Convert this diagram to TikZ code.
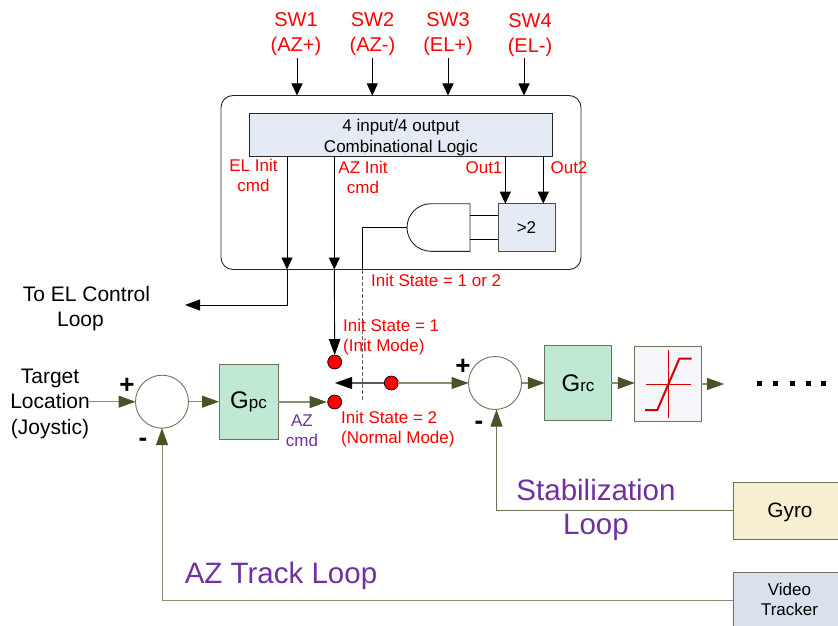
\documentclass[tikz,border=0pt]{standalone}
\usepackage{fontspec}
\setmainfont{Liberation Sans}
\usetikzlibrary{arrows.meta}
\definecolor{olivetip}{HTML}{4A5228}
\definecolor{oliveline}{HTML}{8A8E70}
\definecolor{oliveedge}{HTML}{6E7358}
\definecolor{boxgreen}{HTML}{BFE9D3}
\definecolor{boxcream}{HTML}{F8EFD2}
\definecolor{boxgray}{HTML}{D9E2EC}
\definecolor{boxblue}{HTML}{E4EBF5}
\definecolor{boxpale}{HTML}{F4F6FA}
\definecolor{loopviolet}{HTML}{7030A0}
\definecolor{dotred}{HTML}{FF0000}
\definecolor{dashgray}{HTML}{666666}
\tikzset{
  outerbox/.style={draw=black!85,line width=.9pt,rounded corners=12pt,inner sep=0pt,outer sep=0pt},
  logicbox/.style={draw=black!85,line width=.9pt,fill=boxblue,inner sep=0pt,outer sep=0pt,align=center,font=\fontsize{17}{21}\selectfont},
  ctrlbox/.style={draw=oliveedge,line width=1pt,inner sep=0pt,outer sep=0pt,align=center},
  sumnode/.style={circle,draw=oliveedge,line width=.9pt,fill=white,minimum size=53pt,inner sep=0pt,outer sep=0pt},
  reddot/.style={circle,draw=black,line width=.7pt,fill=dotred,minimum size=14pt,inner sep=0pt,outer sep=0pt},
  redlabel/.style={text=dotred,align=center,inner sep=0pt,font=\fontsize{17}{20}\selectfont},
  redleft/.style={redlabel,align=left,anchor=west},
  swlabel/.style={text=dotred,align=center,inner sep=0pt,font=\fontsize{20}{25}\selectfont},
  darklabel/.style={text=black,align=center,inner sep=0pt,font=\fontsize{21}{25.5}\selectfont},
  violetlabel/.style={text=loopviolet,align=center,inner sep=0pt,font=\fontsize{17}{20}\selectfont},
  looplabel/.style={text=loopviolet,align=center,inner sep=0pt,font=\fontsize{29.5}{34}\selectfont},
  signlabel/.style={text=black,inner sep=0pt,font=\bfseries\fontsize{26}{26}\selectfont},
  blackarrow/.style={draw=black,line width=.9pt,-{Triangle[length=12pt,width=11pt]}},
  bigblack/.style={draw=black,line width=.9pt,-{Triangle[length=16pt,width=11.5pt]}},
  olivearrow/.style={draw=oliveline,line width=1.1pt,-{Triangle[length=17pt,width=12pt,color=olivetip]}},
  plainblack/.style={draw=black,line width=.9pt},
  plainolive/.style={draw=oliveedge,line width=1pt},
}
\begin{document}
\begin{tikzpicture}[x=1pt,y=-1pt]
\useasboundingbox (0,0) rectangle (838,626);
\clip (0,0) rectangle (838,626);

% control logic enclosure
\node[outerbox,minimum width=360pt,minimum height=174pt] (outer) at (401,182.5) {};
\node[logicbox,minimum width=303.5pt,minimum height=42pt] (logic) at (401,135) {\rule{0pt}{18pt}4 input/4 output\\Combinational Logic};
\node[ctrlbox,draw=black!70,fill=boxblue,minimum width=57pt,minimum height=47.5pt,font=\fontsize{17}{20}\selectfont] (gt) at (526.5,227.5) {>2};

% switches
\node[swlabel] (sw1) at (296,34) {SW1\\(AZ+)};
\node[swlabel] (sw2) at (372.5,34) {SW2\\(AZ-)};
\node[swlabel] (sw3) at (448,34) {SW3\\(EL+)};
\node[swlabel] (sw4) at (530,35.5) {SW4\\(EL-)};
\coordinate (sw1a) at (297,58); \coordinate (sw1b) at (297,95.5);
\coordinate (sw2a) at (372.3,58); \coordinate (sw2b) at (372.3,95.5);
\coordinate (sw3a) at (448,58); \coordinate (sw3b) at (448,95.5);
\coordinate (sw4a) at (524,58); \coordinate (sw4b) at (524,95.5);
\draw[blackarrow] (sw1a) -- (sw1b);
\draw[blackarrow] (sw2a) -- (sw2b);
\draw[blackarrow] (sw3a) -- (sw3b);
\draw[blackarrow] (sw4a) -- (sw4b);

% AND gate
\coordinate (andtl) at (470,203.7);
\coordinate (andbl) at (470,251.3);
\coordinate (andout) at (407,227.5);
\draw[draw=black!85,line width=.9pt,fill=white] (andtl) -- (431,203.7) arc[start angle=90,end angle=270,x radius=24pt,y radius=23.8pt] -- (andbl) -- cycle;
\coordinate (and1) at (470,215.7); \coordinate (gt1) at (498,215.7);
\coordinate (and2) at (470,239.3); \coordinate (gt2) at (498,239.3);
\draw[plainblack] (and1) -- (gt1);
\draw[plainblack] (and2) -- (gt2);

% logic outputs
\coordinate (o1a) at (505.3,156); \coordinate (o1b) at (505.3,203.7);
\coordinate (o2a) at (543.3,156); \coordinate (o2b) at (543.3,203.7);
\draw[blackarrow] (o1a) -- (o1b);
\draw[blackarrow] (o2a) -- (o2b);
\node[redlabel] (lo1) at (484,168) {Out1};
\node[redlabel] (lo2) at (569,168) {Out2};
\node[redlabel] (lel) at (253.5,175) {EL Init\\cmd};
\node[redlabel] (laz) at (363,177) {AZ Init\\cmd};

% init state wire
\coordinate (st1) at (362.7,227.5);
\coordinate (st2) at (362.7,270);
\coordinate (st3) at (362.7,400);
\draw[plainblack] (andout) -- (st1) -- (st2);
\draw[draw=dashgray,line width=1.1pt,dash pattern=on 4pt off 2pt] (st2) -- (st3);

% switch dots
\node[reddot] (dot1) at (334.7,362) {};
\node[reddot] (dot2) at (334.7,402) {};
\node[reddot] (dot3) at (391.3,383) {};

% EL and AZ command wires
\coordinate (el1) at (287,156); \coordinate (el2) at (287,269.5); \coordinate (el3) at (287,305); \coordinate (el4) at (185,305);
\coordinate (az1) at (334.3,156); \coordinate (az2) at (334.3,269.5);
\draw[blackarrow] (el1) -- (el2);
\draw[blackarrow] (az1) -- (az2);
\draw[draw=black,line width=.9pt,-{Triangle[length=15pt,width=11pt]}] (el2) -- (el3) -- (el4);
\draw[bigblack] (az2) -- (dot1.north);
\draw[draw=gray!70!black,line width=1.1pt,-{Triangle[length=17pt,width=12pt,color=black]}] (dot3.west) -- (335,383);

% labels
\node[darklabel,anchor=center] (toel) at (86.5,308.5) {To EL Control\\Loop\hspace*{12pt}};
\node[redleft] (s12) at (371,280.5) {Init State = 1 or 2};
\node[redleft] (s1) at (343,337) {Init State = 1\\(Init Mode)};
\node[redleft] (s2) at (341,429.5) {Init State = 2\\(Normal Mode)};

% control chain
\node[darklabel] (target) at (50,403.5) {Target\\Location\\(Joystic)};
\node[sumnode] (sum1) at (162,401.7) {};
\node[ctrlbox,fill=boxgreen,minimum width=59pt,minimum height=75pt] (gpc) at (248.5,401.5) {{\fontsize{24}{24}\selectfont G}{\fontsize{17}{17}\selectfont pc}};
\node[sumnode] (sum2) at (495,383) {};
\node[ctrlbox,fill=boxgreen,minimum width=66.5pt,minimum height=75.5pt] (grc) at (578,383) {{\fontsize{24}{24}\selectfont G}{\fontsize{17}{17}\selectfont rc}};
\node[ctrlbox,fill=boxpale,minimum width=66.5pt,minimum height=75.5pt] (sat) at (668,384.2) {};
\coordinate (endout) at (724,384);
\node[ctrlbox,fill=boxcream,minimum width=110pt,minimum height=57pt] (gyro) at (788,510.5) {};
\node[ctrlbox,fill=boxgray,minimum width=110pt,minimum height=60pt] (video) at (788,602.7) {};
\node[font=\fontsize{20.8}{25}\selectfont,inner sep=0pt] (gyrotext) at (790,512) {Gyro};
\node[font=\fontsize{17}{20}\selectfont,align=center,inner sep=0pt] (videotext) at (789.5,599) {Video\\Tracker};

% saturation symbol
\draw[draw=red!85!black,line width=.8pt] (668,350) -- (668,418);
\draw[draw=red!85!black,line width=.8pt] (645.7,384) -- (691,384);
\draw[draw=red!80!black,line width=2pt] (645,410) -- (657.3,410) -- (679.3,358.7) -- (691.7,358.7);

% connectors
\coordinate (tin) at (89,401.7);
\draw[olivearrow] (tin) -- (sum1.west);
\draw[olivearrow] (sum1.east) -- (sum1.east -| gpc.west);
\coordinate (dot2w) at (326.7,402);
\draw[olivearrow] (gpc.east |- dot2w) -- (dot2w);
\draw[olivearrow] (dot3.east) -- (sum2.west);
\draw[olivearrow] (sum2.east) -- (sum2.east -| grc.west);
\draw[olivearrow] (grc.east) -- (grc.east -| sat.west);
\draw[olivearrow] (sat.east |- endout) -- (endout);
\coordinate (g1) at (496.5,510);
\coordinate (v1) at (162,600.7);
\draw[plainolive,-{Triangle[length=17pt,width=12pt,color=olivetip]}] (gyro.west |- g1) -- (g1) -- (g1 |- sum2.south);
\draw[plainolive,draw=oliveline,-{Triangle[length=17pt,width=12pt,color=olivetip]}] (video.west |- v1) -- (v1) -- (sum1.south);

% signs
\node[signlabel] (p1) at (127,385.5) {+};
\node[signlabel] (m1) at (143,442) {-};
\node[signlabel] (p2) at (463,366.5) {+};
\node[signlabel] (m2) at (479,425) {-};

% loop labels
\node[violetlabel] (azcmd) at (302,430.5) {AZ\\cmd};
\node[looplabel] (stab) at (596,510) {Stabilization\\Loop};
\node[looplabel] (track) at (281,576) {AZ Track Loop};

% continuation dots
\node[fill=black,minimum size=5pt,inner sep=0pt] (d1) at (759,383) {};
\node[fill=black,minimum size=5pt,inner sep=0pt] (d2) at (775.5,383) {};
\node[fill=black,minimum size=5pt,inner sep=0pt] (d3) at (792,383) {};
\node[fill=black,minimum size=5pt,inner sep=0pt] (d4) at (808,383) {};
\node[fill=black,minimum size=5pt,inner sep=0pt] (d5) at (823,383) {};
\end{tikzpicture}
\end{document}
